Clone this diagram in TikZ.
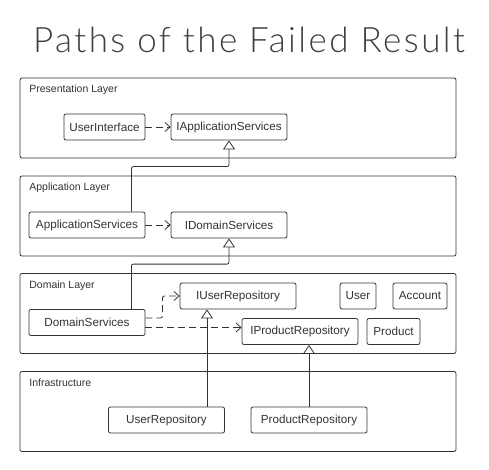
\documentclass[tikz,border=0pt]{standalone}
\usepackage{fontspec}
\setmainfont{Liberation Sans}
\newfontfamily\titlefont{Lato Light}[LetterSpace=7]
\usetikzlibrary{arrows.meta,positioning,calc}
\definecolor{ink}{HTML}{333333}

\begin{document}
\begin{tikzpicture}[x=1pt,y=-1pt,color=ink,line width=0.8pt,
  layer/.style={draw,rounded corners=2pt,minimum width=436pt,minimum height=80pt,inner sep=0pt},
  cls/.style={draw,rounded corners=2pt,minimum height=26pt,inner sep=2pt,font=\fontsize{11.7}{14}\selectfont},
  wide/.style={cls,minimum width=116pt},
  lbl/.style={anchor=west,inner sep=0pt,font=\fontsize{10.5}{12}\selectfont},
  dep/.style={dash pattern=on 7pt off 4pt,-{Straight Barb[length=5pt,width=9pt]}},
  impl/.style={rounded corners=2pt,-{Triangle[open,length=9pt,width=12pt]}}]
  \useasboundingbox[fill=white] (0,0) rectangle (489,470);
  \node[anchor=base,inner sep=0pt,font=\titlefont\fontsize{35}{40}\selectfont,text=black!75] (title) at (249,53) {Paths of the Failed Result};
  % layers
  \node[layer] (pres) at (238,118) {};
  \node[layer] (app) at (238,216) {};
  \node[layer] (dom) at (238,313.5) {};
  \node[layer] (infra) at (238,411.5) {};
  \node[lbl] (presl) at (29,90) {Presentation Layer};
  \node[lbl] (appl) at (29,188) {Application Layer};
  \node[lbl] (doml) at (29,286) {Domain Layer};
  \node[lbl] (infral) at (29,383) {Infrastructure};
  % classes
  \node[cls,minimum width=81pt] (ui) at (104.5,127) {UserInterface};
  \node[wide] (iapp) at (229,127) {IApplicationServices};
  \node[wide] (appsvc) at (87,225) {ApplicationServices};
  \node[wide] (idom) at (229,225) {IDomainServices};
  \node[wide] (domsvc) at (87,322.5) {DomainServices};
  \node[wide] (iuser) at (238,296) {IUserRepository};
  \node[cls,minimum width=36pt] (user) at (358,296) {User};
  \node[cls,minimum width=54pt] (account) at (420,296) {Account};
  \node[wide] (iprod) at (300,331.5) {IProductRepository};
  \node[cls,minimum width=53pt] (product) at (393.5,331.5) {Product};
  \node[wide] (userrepo) at (166.5,420) {UserRepository};
  \node[wide] (prodrepo) at (309,420) {ProductRepository};
  % connectors
  \draw[dep] (ui) -- (iapp);
  \draw[impl] ([xshift=-14pt]appsvc.north east) -- ++(0,-45) -| (iapp.south);
  \draw[dep] (appsvc) -- (idom);
  \draw[impl] ([xshift=-14pt]domsvc.north east) -- ++(0,-45) -| (idom.south);
  \draw[dep,rounded corners=2pt] ([yshift=4.5pt]domsvc.east) -- ++(17,0) |- (iuser.west);
  \coordinate (d2) at ([yshift=-5pt]domsvc.east);
  \draw[dep] (d2) -- (d2 -| iprod.west);
  \draw[impl] ([xshift=40.5pt]userrepo.north) -- ([xshift=-31pt]iuser.south);
  \draw[impl] (prodrepo.north) -- ([xshift=9pt]iprod.south);
\end{tikzpicture}
\end{document}
